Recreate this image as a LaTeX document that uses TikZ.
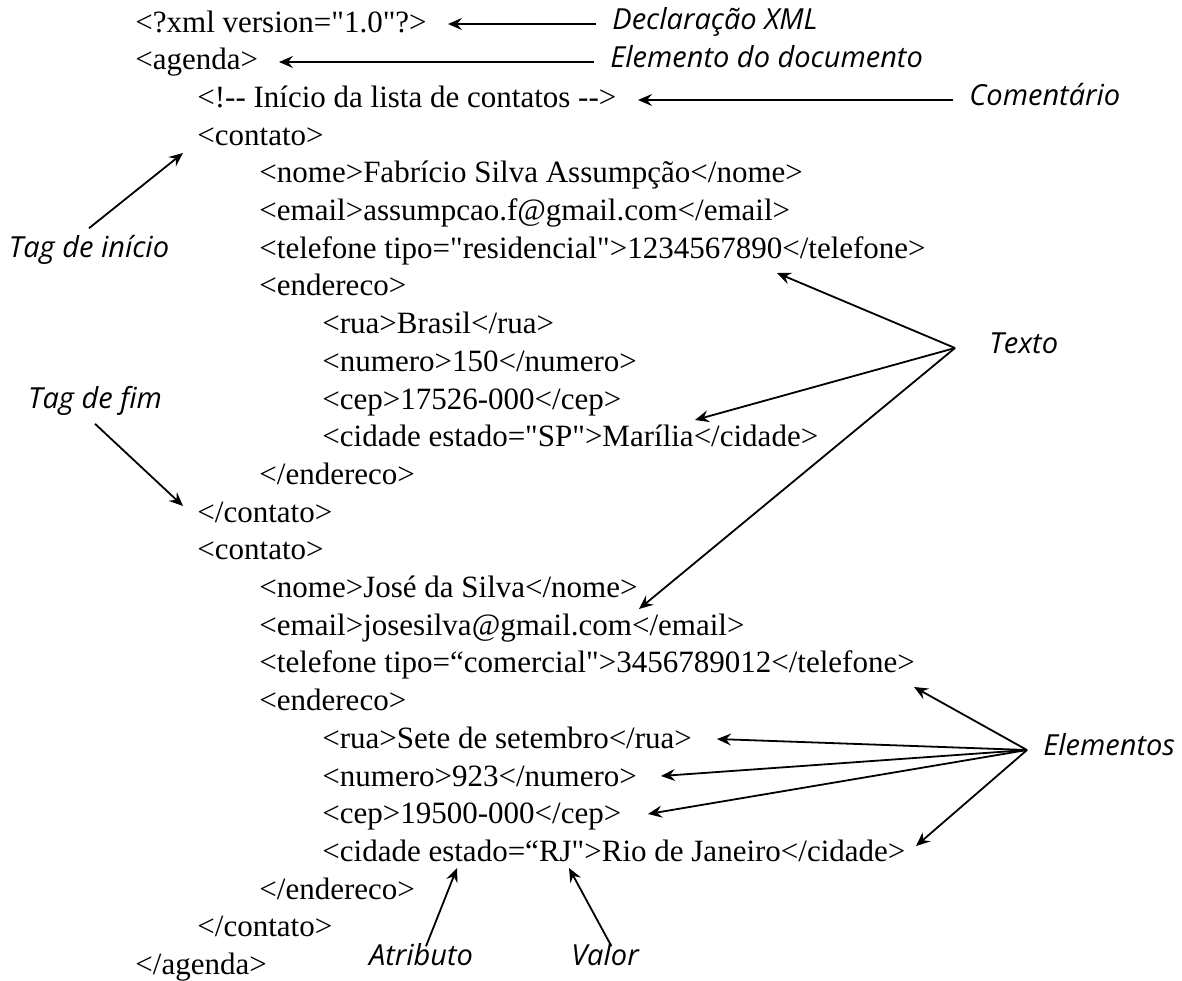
\documentclass[tikz,border=0pt]{standalone}
\usepackage{fontspec}
\setmainfont{Liberation Serif}[Ligatures=TeXOff]
\newfontfamily\rotulofont{Open Sans}
\usepackage{tikz}
\usetikzlibrary{arrows.meta}

\tikzset{
    xmlline/.style={font=\fontsize{15.5}{18}\selectfont, anchor=base west, inner sep=0pt},
    rotulo/.style={font=\rotulofont\itshape\fontsize{14.5}{17}\selectfont, inner xsep=8pt, inner ysep=2pt, text height=0.72em, text depth=0.22em},
    seta/.style={-{Stealth[length=7pt, width=6pt, inset=2.5pt]}, line width=0.9pt}
}

\begin{document}
\begin{tikzpicture}[x=0.5pt, y=-0.5pt]
    \useasboundingbox (0,0) rectangle (1182,980);

    % XML document
    \node[xmlline] (l1) at (135,32) {<?xml version="1.0"?>};
    \node[xmlline] (l2) at (135,69.7) {<agenda>};
    \node[xmlline] (l3) at (197,107.4) {<!-{}- Início da lista de contatos -{}->};
    \node[xmlline] (l4) at (197,145.1) {<contato>};
    \node[xmlline] (l5) at (259,182.8) {<nome>Fabrício Silva Assumpção</nome>};
    \node[xmlline] (l6) at (259,220.5) {<email>assumpcao.f@gmail.com</email>};
    \node[xmlline] (l7) at (259,258.2) {<telefone tipo="residencial">1234567890</telefone>};
    \node[xmlline] (l8) at (259,295.9) {<endereco>};
    \node[xmlline] (l9) at (322,333.6) {<rua>Brasil</rua>};
    \node[xmlline] (l10) at (322,371.3) {<numero>150</numero>};
    \node[xmlline] (l11) at (322,409) {<cep>17526-000</cep>};
    \node[xmlline] (l12) at (322,446.7) {<cidade estado="SP">Marília</cidade>};
    \node[xmlline] (l13) at (259,484.4) {</endereco>};
    \node[xmlline] (l14) at (197,522.1) {</contato>};
    \node[xmlline] (l15) at (197,559.8) {<contato>};
    \node[xmlline] (l16) at (259,597.5) {<nome>José da Silva</nome>};
    \node[xmlline] (l17) at (259,635.2) {<email>josesilva@gmail.com</email>};
    \node[xmlline] (l18) at (259,672.9) {<telefone tipo=“comercial">3456789012</telefone>};
    \node[xmlline] (l19) at (259,710.6) {<endereco>};
    \node[xmlline] (l20) at (322,748.3) {<rua>Sete de setembro</rua>};
    \node[xmlline] (l21) at (322,786) {<numero>923</numero>};
    \node[xmlline] (l22) at (322,823.7) {<cep>19500-000</cep>};
    \node[xmlline] (l23) at (322,861.4) {<cidade estado=“RJ">Rio de Janeiro</cidade>};
    \node[xmlline] (l24) at (259,899.1) {</endereco>};
    \node[xmlline] (l25) at (197,936.8) {</contato>};
    \node[xmlline] (l26) at (135,974.5) {</agenda>};

    % Labels
    \node[rotulo, anchor=west] (decl) at (596,24) {Declaração XML};
    \node[rotulo, anchor=west] (elem) at (594,62) {Elemento do documento};
    \node[rotulo, anchor=west] (coment) at (953,100) {Comentário};
    \node[rotulo] (inicio) at (89,252) {Tag de início};
    \node[rotulo] (fim) at (95,403) {Tag de fim};
    \node[rotulo, anchor=west] (texto) at (973,348) {Texto};
    \node[rotulo, anchor=west] (elementos) at (1027,750) {Elementos};
    \node[rotulo] (atributo) at (421,960) {Atributo};
    \node[rotulo] (valor) at (605,960) {Valor};

    % Arrow tips
    \coordinate (t-decl) at (448,24);
    \coordinate (t-elem) at (279,62);
    \coordinate (t-coment) at (638,100);
    \coordinate (t-inicio) at (183,153);
    \coordinate (t-fim) at (183,506);
    \coordinate (t-texto1) at (777,273);
    \coordinate (t-texto2) at (695,420);
    \coordinate (t-texto3) at (639,609);
    \coordinate (t-elem1) at (914,687);
    \coordinate (t-elem2) at (717,739);
    \coordinate (t-elem3) at (661,776);
    \coordinate (t-elem4) at (648,814);
    \coordinate (t-elem5) at (916,846);
    \coordinate (t-atributo) at (457,868);
    \coordinate (t-valor) at (569,868);

    % Arrows
    \draw[seta] (decl.west) -- (t-decl);
    \draw[seta] (elem.west) -- (t-elem);
    \draw[seta] (coment.west) -- (t-coment);
    \draw[seta] ([yshift=5pt]inicio.north) -- (t-inicio);
    \draw[seta] ([yshift=-3.5pt]fim.south) -- (t-fim);
    \foreach \t in {1,2,3}
        \draw[seta] ([xshift=-9pt]texto.west) -- (t-texto\t);
    \foreach \t in {1,...,5}
        \draw[seta] (elementos.west) -- (t-elem\t);
    \draw[seta] (atributo.70) -- (t-atributo);
    \draw[seta] (valor.65) -- (t-valor);
\end{tikzpicture}
\end{document}
